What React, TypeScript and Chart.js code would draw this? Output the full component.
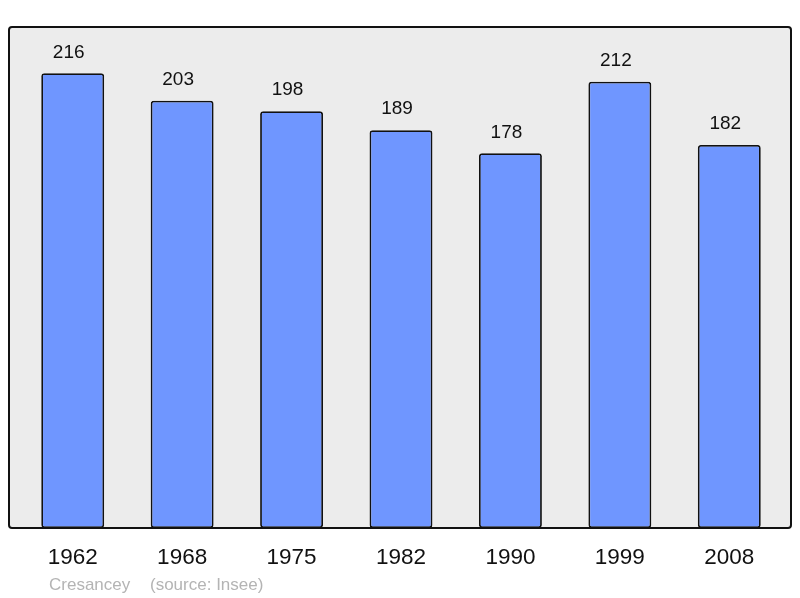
import React, { useEffect, useRef } from "react";
import { Chart, registerables } from "chart.js";

Chart.register(...registerables);

const years = ["1962", "1968", "1975", "1982", "1990", "1999", "2008"];
const population = [216, 203, 198, 189, 178, 212, 182];
const commune = "Cresancey";
const source = "(source: Insee)";

const FONT = "'Liberation Sans', Arial, sans-serif";

function framePath(ctx: any, chartArea: any) {
  const x0 = chartArea.left - 9;
  const x1 = chartArea.right + 7;
  const y0 = chartArea.top;
  const y1 = chartArea.bottom;
  const r = 3;
  ctx.beginPath();
  ctx.moveTo(x0 + r, y0);
  ctx.lineTo(x1 - r, y0);
  ctx.quadraticCurveTo(x1, y0, x1, y0 + r);
  ctx.lineTo(x1, y1 - r);
  ctx.quadraticCurveTo(x1, y1, x1 - r, y1);
  ctx.lineTo(x0 + r, y1);
  ctx.quadraticCurveTo(x0, y1, x0, y1 - r);
  ctx.lineTo(x0, y0 + r);
  ctx.quadraticCurveTo(x0, y0, x0 + r, y0);
  ctx.closePath();
  return x0;
}

const framePlugin = {
  id: "frame",
  beforeDraw(chart: any) {
    const { ctx, chartArea } = chart;
    ctx.save();
    framePath(ctx, chartArea);
    ctx.fillStyle = "#ececec";
    ctx.fill();
    ctx.restore();
  },
  afterDatasetsDraw(chart: any) {
    const { ctx, chartArea } = chart;
    ctx.save();
    const x0 = framePath(ctx, chartArea);
    ctx.lineWidth = 2;
    ctx.strokeStyle = "#111";
    ctx.stroke();

    // value labels
    const meta = chart.getDatasetMeta(0);
    ctx.fillStyle = "#111";
    ctx.font = `19px ${FONT}`;
    ctx.textAlign = "center";
    ctx.textBaseline = "middle";
    meta.data.forEach((bar: any, i: number) => {
      ctx.fillText(String(population[i]), bar.x - 4, bar.y - 21);
    });

    // footer
    ctx.fillStyle = "#b4b4b4";
    ctx.font = `17px ${FONT}`;
    ctx.textAlign = "left";
    ctx.fillText(commune, x0 + 40, 585);
    ctx.fillText(source, x0 + 141, 585);
    ctx.restore();
  },
};

export default function App() {
  const ref = useRef<HTMLCanvasElement>(null);
  useEffect(() => {
    document.body.style.margin = "0";
    const chart = new Chart(ref.current!, {
      type: "bar",
      data: {
        labels: years,
        datasets: [
          {
            data: population,
            backgroundColor: "#6f96ff",
            borderColor: "#111",
            borderWidth: 1.8,
            borderRadius: 3,
            borderSkipped: false,
            barPercentage: 0.575,
            categoryPercentage: 1,
          },
        ],
      },
      options: {
        animation: false,
        responsive: false,
        maintainAspectRatio: false,
        layout: { padding: { left: 18, right: 16, top: 27, bottom: 0 } },
        plugins: {
          legend: { display: false },
          tooltip: { enabled: false },
        },
        scales: {
          x: {
            offset: true,
            grid: { display: false, drawTicks: false },
            border: { display: false },
            ticks: {
              color: "#111",
              font: { size: 22.5, family: FONT },
              padding: 16,
              maxRotation: 0,
            },
            afterFit(scale: any) {
              scale.height = 70;
            },
          },
          y: {
            display: false,
            min: 0,
            max: 238,
          },
        },
      },
      plugins: [framePlugin],
    });
    return () => chart.destroy();
  }, []);
  return (
    <div style={{ width: 800, height: 598 }}>
      <canvas ref={ref} width={800} height={598} style={{ display: "block" }} />
    </div>
  );
}
